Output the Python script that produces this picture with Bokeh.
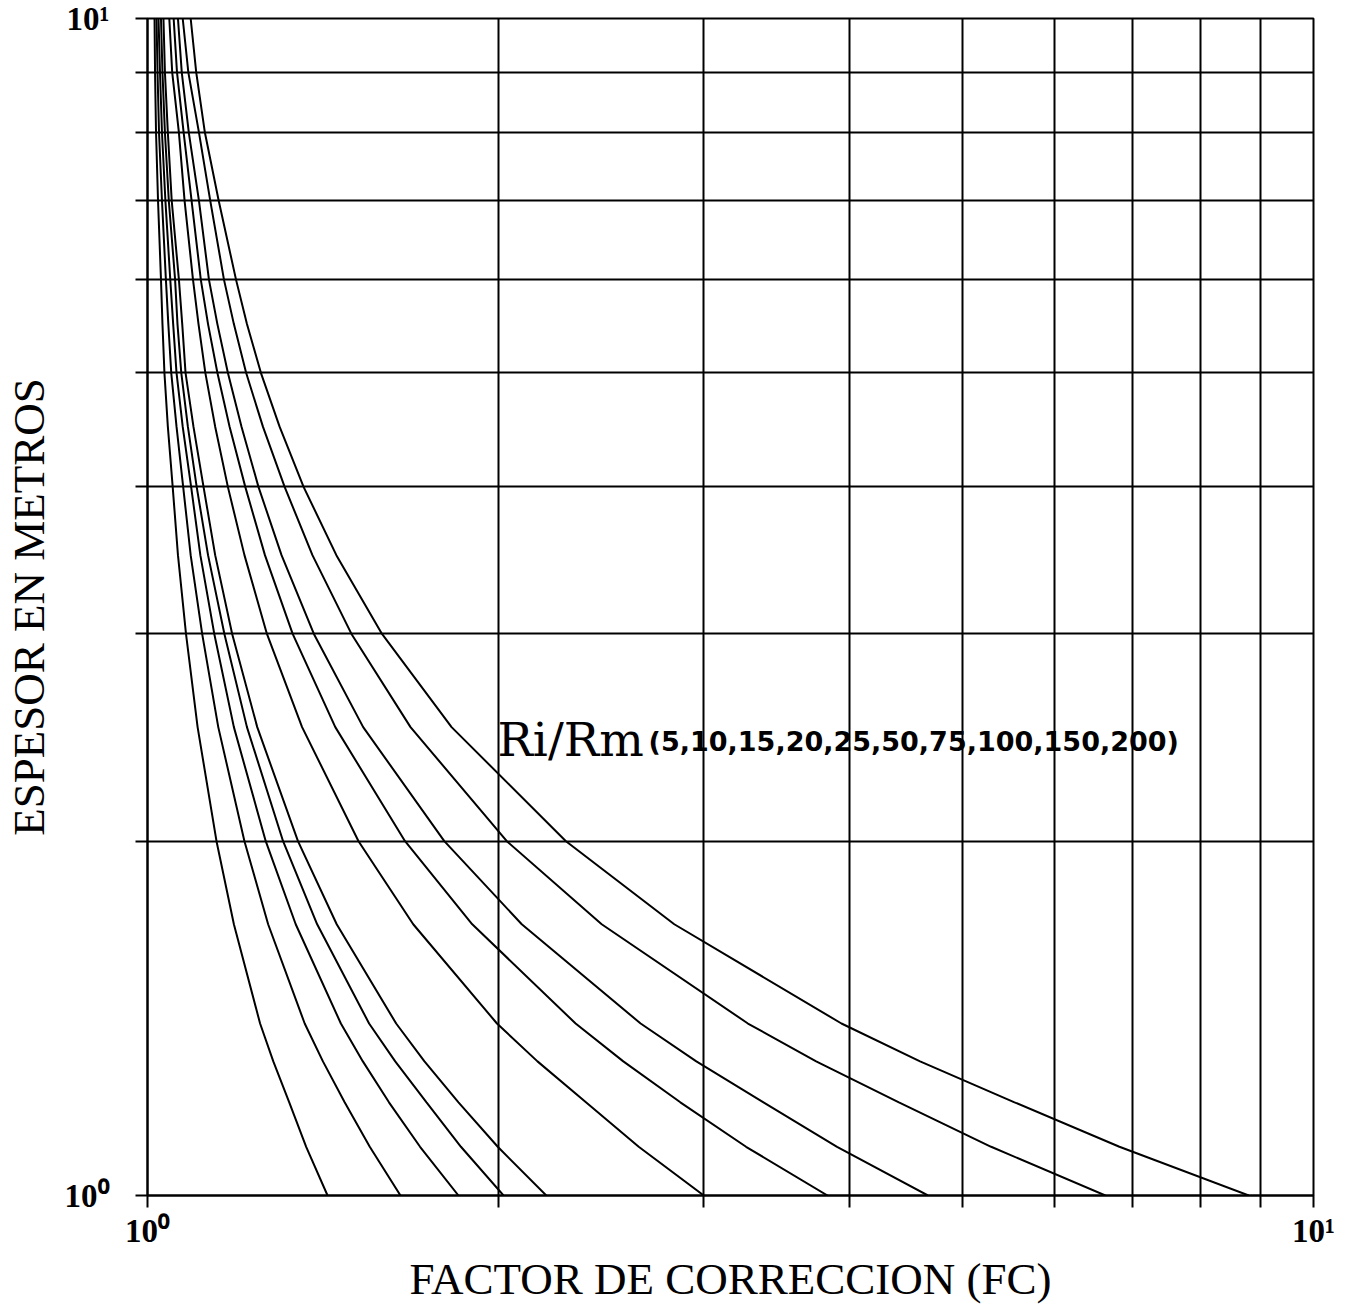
from bokeh.plotting import figure
from bokeh.models import Range1d, FixedTicker, Label
from bokeh.embed import file_html
from bokeh.resources import INLINE

# Thickness levels (m) at which the curves were read
espesor = [10, 9, 8, 7, 6, 5.5, 5, 4.5, 4, 3.5, 3, 2.5, 2, 1.7, 1.4, 1.3, 1.2, 1.1, 1.0]

ri_rm = [5, 10, 15, 20, 25, 50, 75, 100, 150, 200]

fc_5   = [1.014, 1.015, 1.017, 1.021, 1.027, 1.030, 1.034, 1.041, 1.051, 1.062, 1.079, 1.104, 1.146, 1.186, 1.249, 1.282, 1.323, 1.368, 1.427]
fc_10  = [1.018, 1.020, 1.023, 1.029, 1.037, 1.042, 1.048, 1.059, 1.073, 1.089, 1.114, 1.150, 1.211, 1.269, 1.364, 1.414, 1.476, 1.551, 1.648]
fc_15  = [1.022, 1.025, 1.029, 1.036, 1.046, 1.052, 1.059, 1.072, 1.090, 1.110, 1.141, 1.186, 1.263, 1.340, 1.465, 1.530, 1.611, 1.713, 1.848]
fc_20  = [1.027, 1.030, 1.035, 1.043, 1.056, 1.061, 1.069, 1.083, 1.102, 1.127, 1.164, 1.217, 1.307, 1.398, 1.549, 1.631, 1.735, 1.857, 2.020]
fc_25  = [1.032, 1.035, 1.041, 1.049, 1.064, 1.071, 1.078, 1.095, 1.117, 1.143, 1.182, 1.242, 1.346, 1.453, 1.634, 1.728, 1.848, 1.997, 2.198]
fc_50  = [1.044, 1.050, 1.064, 1.076, 1.094, 1.106, 1.121, 1.143, 1.172, 1.211, 1.266, 1.357, 1.517, 1.690, 1.994, 2.160, 2.377, 2.638, 3.000]
fc_75  = [1.053, 1.060, 1.074, 1.091, 1.111, 1.127, 1.148, 1.176, 1.213, 1.261, 1.332, 1.449, 1.663, 1.899, 2.329, 2.559, 2.864, 3.261, 3.830]
fc_100 = [1.062, 1.070, 1.085, 1.107, 1.129, 1.148, 1.172, 1.204, 1.245, 1.303, 1.389, 1.531, 1.797, 2.094, 2.648, 2.956, 3.375, 3.903, 4.670]
fc_150 = [1.072, 1.084, 1.107, 1.132, 1.163, 1.186, 1.215, 1.256, 1.311, 1.385, 1.496, 1.681, 2.033, 2.452, 3.273, 3.745, 4.410, 5.291, 6.630]
fc_200 = [1.089, 1.101, 1.120, 1.151, 1.191, 1.217, 1.251, 1.298, 1.361, 1.452, 1.589, 1.823, 2.285, 2.830, 3.937, 4.598, 5.541, 6.816, 8.800]

curves = [fc_5, fc_10, fc_15, fc_20, fc_25, fc_50, fc_75, fc_100, fc_150, fc_200]

grid_ticks = [1, 2, 3, 4, 5, 6, 7, 8, 9, 10]
tick_labels = {1: "10\u2070", 10: "10\u00b9"}

p = figure(width=1349, height=1308, x_axis_type="log", y_axis_type="log",
           x_range=Range1d(1, 10), y_range=Range1d(1, 10),
           output_backend="svg", toolbar_location=None,
           min_border_left=147, min_border_right=36,
           min_border_top=18, min_border_bottom=113)

p.background_fill_color = "white"
p.border_fill_color = "white"
p.outline_line_color = "black"
p.outline_line_width = 2

for ax in (p.xaxis[0], p.yaxis[0]):
    ax.ticker = FixedTicker(ticks=grid_ticks)
    ax.major_label_overrides = {t: tick_labels.get(t, "") for t in grid_ticks}
    ax.minor_tick_line_color = None
    ax.major_tick_in = 0
    ax.major_tick_out = 12
    ax.major_tick_line_width = 2
    ax.axis_line_width = 2
    ax.axis_line_color = "black"
    ax.major_tick_line_color = "black"
    ax.major_label_text_font = "Liberation Serif"
    ax.major_label_text_font_style = "bold"
    ax.major_label_text_font_size = "33px"
    ax.major_label_text_color = "black"
    ax.axis_label_text_font = "Liberation Serif"
    ax.axis_label_text_font_style = "normal"
    ax.axis_label_text_font_size = "45px"
    ax.axis_label_text_color = "black"

p.xaxis.major_label_standoff = 5
p.yaxis.major_label_standoff = 26
p.xaxis.axis_label = "FACTOR DE CORRECCION (FC)"
p.yaxis.axis_label = "ESPESOR EN METROS"
p.xaxis.axis_label_standoff = 2
p.yaxis.axis_label_standoff = 8

p.xgrid.ticker = FixedTicker(ticks=grid_ticks)
p.ygrid.ticker = FixedTicker(ticks=grid_ticks)
for g in (p.xgrid[0], p.ygrid[0]):
    g.grid_line_color = "black"
    g.grid_line_width = 2
    g.grid_line_alpha = 1.0

for fc in curves:
    p.line(fc, espesor, line_color="black", line_width=2)

p.add_layout(Label(x=1.996, y=2.44, text="Ri/Rm", text_font="DejaVu Serif",
                   text_font_size="47px", text_color="black",
                   text_baseline="alphabetic", text_align="left"))
p.add_layout(Label(x=2.69, y=2.43, text="(" + ",".join(str(v) for v in ri_rm) + ")",
                   text_font="DejaVu Sans", text_font_style="bold",
                   text_font_size="27px", text_color="black",
                   text_baseline="alphabetic", text_align="left"))

open("out.html", "w").write(file_html(p, INLINE))
